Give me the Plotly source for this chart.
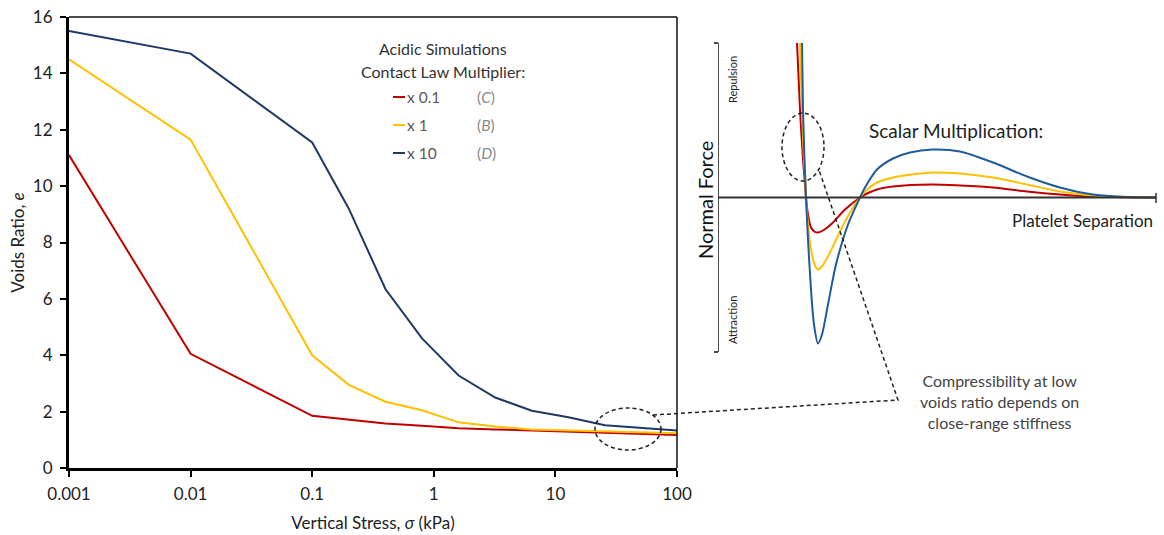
import plotly.graph_objects as go

W, H = 1164, 535

# ---- Consolidation curves: voids ratio vs vertical stress ----
stress_kpa = [0.001, 0.01, 0.1, 0.2, 0.4, 0.8, 1.6, 3.2, 6.4, 12.8, 25.6, 51.2, 100]
e_x01 = [11.1, 4.05, 1.85, 1.72, 1.58, 1.50, 1.41, 1.37, 1.33, 1.30, 1.27, 1.23, 1.17]
e_x1 = [14.5, 11.65, 4.0, 2.95, 2.35, 2.05, 1.62, 1.47, 1.37, 1.33, 1.30, 1.27, 1.23]
e_x10 = [15.5, 14.7, 11.55, 9.2, 6.35, 4.6, 3.28, 2.5, 2.03, 1.8, 1.52, 1.42, 1.33]

series_names = ["x 0.1", "x 1", "x 10"]
series_tags = ["C", "B", "D"]
series_colors = ["#C00000", "#FFC000", "#1F3864"]

y_ticks = [0, 2, 4, 6, 8, 10, 12, 14, 16]
x_ticks = [0.001, 0.01, 0.1, 1, 10, 100]
x_tick_text = ["0.001", "0.01", "0.1", "1", "10", "100"]

# ---- Schematic contact law: normal force vs platelet separation (arbitrary units) ----
sep_red = [79, 82, 85, 87, 88, 90, 93, 97, 100, 105, 114, 127, 142, 147, 159, 175, 214, 242, 275, 309, 342, 375, 409, 438]
force_red = [155, 88, 38, 13, 0, -17, -30, -34.5, -35, -33, -26, -12, 0, 3, 8, 11, 13, 12, 10, 6, 3, 1, 0.3, 0]
sep_yel = [82, 84, 86, 87.5, 88, 90, 93, 97, 100, 104, 112, 122, 132, 142, 147, 159, 175, 214, 242, 275, 309, 342, 375, 409, 438]
force_yel = [155, 88, 38, 13, 0, -27, -52, -68, -72, -69, -55, -34, -15, 0, 6, 15, 20, 25, 24, 20, 13, 6, 2, 0.5, 0]
sep_blu = [84, 85, 86.5, 87.5, 88, 90, 93, 96, 100, 104, 110, 118, 130, 142, 147, 159, 175, 192, 214, 242, 275, 309, 342, 375, 409, 438]
force_blu = [155, 88, 38, 13, 0, -42, -92, -127, -146, -137, -107, -67, -27, 0, 10, 28, 39, 45, 48, 46, 35, 21, 10, 3, 0.5, 0]
schematic_colors = ["#C00000", "#FFC000", "#1F5C99"]


def px(x):
    return x / W


def py(y):
    return 1 - y / H


fig = go.Figure()

for ys, name, col in zip([e_x01, e_x1, e_x10], series_names, series_colors):
    fig.add_trace(go.Scatter(x=stress_kpa, y=ys, mode="lines", name=name,
                             line=dict(color=col, width=2), showlegend=False,
                             xaxis="x", yaxis="y"))

for xs, ys, col in zip([sep_red, sep_yel, sep_blu], [force_red, force_yel, force_blu], schematic_colors):
    fig.add_trace(go.Scatter(x=xs, y=ys, mode="lines",
                             line=dict(color=col, width=2, shape="spline", smoothing=0.8),
                             showlegend=False, xaxis="x2", yaxis="y2"))

font_family = "Lato, 'Open Sans', sans-serif"

fig.update_layout(
    width=W, height=H,
    margin=dict(l=0, r=0, t=0, b=0),
    paper_bgcolor="white", plot_bgcolor="white",
    font=dict(family=font_family, color="#222"),
    xaxis=dict(
        type="log", domain=[px(69), px(677)], range=[-3, 2], automargin=False,
        tickvals=x_ticks, ticktext=x_tick_text, ticks="outside", ticklen=6, tickwidth=2,
        tickcolor="black", showline=True, linecolor="black", linewidth=3, ticklabelstandoff=3,
        showgrid=False, zeroline=False, tickfont=dict(size=17, color="#222"),
        title=dict(text="Vertical Stress, <i>σ</i> (kPa)", font=dict(size=17, color="#222"), standoff=14),
        anchor="y",
    ),
    yaxis=dict(
        domain=[py(468), py(17)], range=[0, 16], automargin=False,
        tickvals=y_ticks, ticks="outside", ticklen=6, tickwidth=2, ticklabelstandoff=4,
        tickcolor="black", showline=True, linecolor="black", linewidth=3,
        showgrid=False, zeroline=False, tickfont=dict(size=17, color="#222"),
        title=dict(text="Voids Ratio, <i>e</i>", font=dict(size=17, color="#222"), standoff=4),
        anchor="x",
    ),
    xaxis2=dict(domain=[px(718), px(1156)], range=[0, 438], visible=False, anchor="y2", automargin=False),
    yaxis2=dict(domain=[py(352), py(43)], range=[-154.5, 154.5], visible=False, anchor="x2", automargin=False),
)

shapes = []
# frame top and right of the consolidation plot
shapes.append(dict(type="line", xref="paper", yref="paper", x0=px(69), x1=px(677), y0=py(17), y1=py(17),
                   line=dict(color="#111", width=1.5)))
shapes.append(dict(type="line", xref="paper", yref="paper", x0=px(677), x1=px(677), y0=py(17), y1=py(468),
                   line=dict(color="#111", width=1.5)))

# schematic axes
shapes.append(dict(type="line", xref="x2", yref="y2", x0=0, x1=0, y0=-154.5, y1=154.5,
                   line=dict(color="#111", width=1.5)))
shapes.append(dict(type="line", xref="x2", yref="y2", x0=0, x1=438, y0=0, y1=0,
                   line=dict(color="#333", width=2)))
shapes.append(dict(type="line", xref="paper", yref="paper", x0=px(714), x1=px(718), y0=py(43), y1=py(43),
                   line=dict(color="#111", width=1.5)))
shapes.append(dict(type="line", xref="paper", yref="paper", x0=px(714), x1=px(718), y0=py(352), y1=py(352),
                   line=dict(color="#111", width=1.5)))
shapes.append(dict(type="line", xref="paper", yref="paper", x0=px(1156), x1=px(1156), y0=py(193), y1=py(203),
                   line=dict(color="#333", width=1.5)))

# legend line samples
for i, col in enumerate(series_colors):
    yy = 97 + 28 * i
    shapes.append(dict(type="line", xref="paper", yref="paper", x0=px(393), x1=px(405), y0=py(yy), y1=py(yy),
                       line=dict(color=col, width=2)))

# dashed callouts
dash = dict(color="#222", width=1.5, dash="4px,3px")
shapes.append(dict(type="circle", xref="paper", yref="paper", x0=px(595), x1=px(661), y0=py(408), y1=py(450),
                   line=dash))
shapes.append(dict(type="circle", xref="paper", yref="paper", x0=px(782), x1=px(824), y0=py(113), y1=py(181),
                   line=dash))
path = "M {:.5f},{:.5f} L {:.5f},{:.5f} L {:.5f},{:.5f}".format(px(653), py(415), px(898), py(400), px(819), py(170))
shapes.append(dict(type="path", xref="paper", yref="paper", path=path, line=dash))

fig.update_layout(shapes=shapes)

ann = []
ann.append(dict(x=px(443), y=py(49), text="Acidic Simulations", showarrow=False, xref="paper", yref="paper",
                font=dict(size=16, color="#333"), xanchor="center", yanchor="middle"))
ann.append(dict(x=px(443), y=py(71), text="Contact Law Multiplier:", showarrow=False, xref="paper", yref="paper",
                font=dict(size=16, color="#333"), xanchor="center", yanchor="middle"))
for i, (name, tag) in enumerate(zip(series_names, series_tags)):
    yy = 97 + 28 * i
    ann.append(dict(x=px(405), y=py(yy), text=name, showarrow=False, xref="paper", yref="paper",
                    font=dict(size=15.5, color="#595959"), xanchor="left", yanchor="middle"))
    ann.append(dict(x=px(475), y=py(yy), text="(<i>" + tag + "</i>)", showarrow=False, xref="paper", yref="paper",
                    font=dict(size=15.5, color="#8a8a8a"), xanchor="left", yanchor="middle"))

ann.append(dict(x=px(705), y=py(200), text="Normal Force", textangle=-90, showarrow=False, xref="paper",
                yref="paper", font=dict(size=20, color="#111"), xanchor="center", yanchor="middle"))
ann.append(dict(x=px(732), y=py(80), text="Repulsion", textangle=-90, showarrow=False, xref="paper",
                yref="paper", font=dict(size=11, color="#222"), xanchor="center", yanchor="middle"))
ann.append(dict(x=px(732), y=py(320), text="Attraction", textangle=-90, showarrow=False, xref="paper",
                yref="paper", font=dict(size=11, color="#222"), xanchor="center", yanchor="middle"))
ann.append(dict(x=px(956), y=py(130), text="Scalar Multiplication:", showarrow=False, xref="paper",
                yref="paper", font=dict(size=19, color="#222"), xanchor="center", yanchor="middle"))
ann.append(dict(x=px(1082), y=py(220), text="Platelet Separation", showarrow=False, xref="paper",
                yref="paper", font=dict(size=17, color="#222"), xanchor="center", yanchor="middle"))
ann.append(dict(x=px(1000), y=py(401), text="Compressibility at low<br>voids ratio depends on<br>close-range stiffness",
                showarrow=False, xref="paper", yref="paper", font=dict(size=16, color="#444"),
                xanchor="center", yanchor="middle", align="center"))

fig.update_layout(annotations=ann)

fig.write_html("out.html")
